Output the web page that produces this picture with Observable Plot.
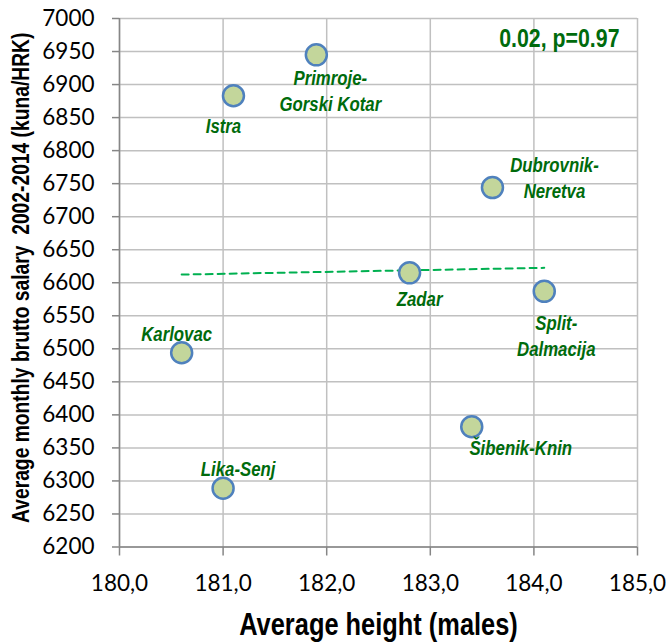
<!DOCTYPE html>
<html>
<head>
<meta charset="utf-8">
<script src="https://cdn.jsdelivr.net/npm/d3@7"></script>
<script src="https://cdn.jsdelivr.net/npm/@observablehq/plot@0.6"></script>
<style>
  html, body { margin: 0; padding: 0; background: #fff; }
</style>
</head>
<body>
<div id="chart"></div>
<script>
// ---- data ----
const regions  = ["Primroje-\nGorski Kotar", "Istra", "Dubrovnik-\nNeretva", "Zadar", "Split-\nDalmacija", "Karlovac", "Lika-Senj", "Šibenik-Knin"];
const heights  = [181.9, 181.1, 183.6, 182.8, 184.1, 180.6, 181.0, 183.4];
const salaries = [6945, 6883, 6744, 6615, 6587, 6494, 6289, 6382];
const xTicks = [180, 181, 182, 183, 184, 185];
const yTicks = [6200, 6250, 6300, 6350, 6400, 6450, 6500, 6550, 6600, 6650, 6700, 6750, 6800, 6850, 6900, 6950, 7000];
const statText = "0.02, p=0.97";
const xTitle = "Average height (males)";
const yTitle = "Average monthly brutto salary  2002-2014 (kuna/HRK)";

// label offsets (pixels) relative to each point
const labelDx = [14, -10, 62, 10, 12, -5, 15, 49];
const labelDy = [35, 29, -11, 25, 43, -20, -21, 20];

const data = regions.map((r, i) => ({region: r, height: heights[i], salary: salaries[i]}));

const narrow = "'Liberation Sans Narrow', 'Arial Narrow', 'Liberation Sans', sans-serif";
const green = "#006b0c";

const labelMarks = data.map((d, i) => Plot.text([d], {
  x: "height", y: "salary", text: "region",
  dx: labelDx[i], dy: labelDy[i],
  fill: green, fontFamily: narrow, fontWeight: "bold", fontStyle: "italic",
  fontSize: 20.5, lineHeight: 1.27, textAnchor: "middle", lineAnchor: "middle"
}));

const chart = Plot.plot({
  width: 671,
  height: 644,
  marginLeft: 119,
  marginRight: 34,
  marginTop: 18,
  marginBottom: 97.5,
  style: {fontFamily: "Lato, 'Liberation Sans', sans-serif", fontSize: "22.5px", color: "#000", background: "#fff"},
  x: {domain: [180, 185], ticks: xTicks, label: null},
  y: {domain: [6200, 7000], ticks: yTicks, label: null},
  marks: [
    Plot.gridX(xTicks, {stroke: "#c0c0c0", strokeOpacity: 1, strokeWidth: 1.5}),
    Plot.gridY(yTicks, {stroke: "#c0c0c0", strokeOpacity: 1, strokeWidth: 1.5}),
    Plot.axisX(xTicks, {tickSize: 9, tickPadding: 19, stroke: "#868686", strokeWidth: 1.5, fill: "#000",
      tickFormat: d => d.toFixed(1).replace(".", ","), label: null}),
    Plot.axisY(yTicks, {tickSize: 7, tickPadding: 18, stroke: "#868686", strokeWidth: 1.5, fill: "#000",
      tickFormat: d => String(d), label: null}),
    Plot.ruleX([180], {stroke: "#868686", strokeWidth: 1.5}),
    Plot.ruleY([6200], {stroke: "#868686", strokeWidth: 1.5}),
    Plot.linearRegressionY(data, {x: "height", y: "salary", ci: 0, stroke: "#00b050", strokeWidth: 2, strokeDasharray: "7,5"}),
    Plot.dot(data, {x: "height", y: "salary", r: 10.5, fill: "#c3d69b", stroke: "#4f81bd", strokeWidth: 2.5, fillOpacity: 1}),
    ...labelMarks,
    Plot.text([statText], {frameAnchor: "top-right", text: d => d, dx: -18, dy: 20,
      textAnchor: "end", lineAnchor: "middle", fill: green, fontFamily: narrow, fontWeight: "bold", fontSize: 26}),
    Plot.text([xTitle], {frameAnchor: "bottom", text: d => d, dy: 78, textAnchor: "middle", lineAnchor: "middle",
      fill: "#000", fontFamily: narrow, fontWeight: "bold", fontSize: 31}),
    Plot.text([yTitle], {frameAnchor: "left", text: d => d, dx: -98, dy: -5, rotate: -90,
      textAnchor: "middle", lineAnchor: "middle",
      fill: "#000", fontFamily: narrow, fontWeight: "bold", fontSize: 23.5})
  ]
});

// emulate a condensed (narrow) face: compress the bold texts horizontally around their anchor
chart.querySelectorAll('g[font-family*="Narrow"] text').forEach(t => {
  const x = +t.getAttribute("x") || 0, y = +t.getAttribute("y") || 0;
  const tr = t.getAttribute("transform") || "";
  t.setAttribute("transform", `${tr} translate(${x},${y}) scale(0.82,1) translate(${-x},${-y})`);
});

document.getElementById("chart").appendChild(chart);
</script>
</body>
</html>
